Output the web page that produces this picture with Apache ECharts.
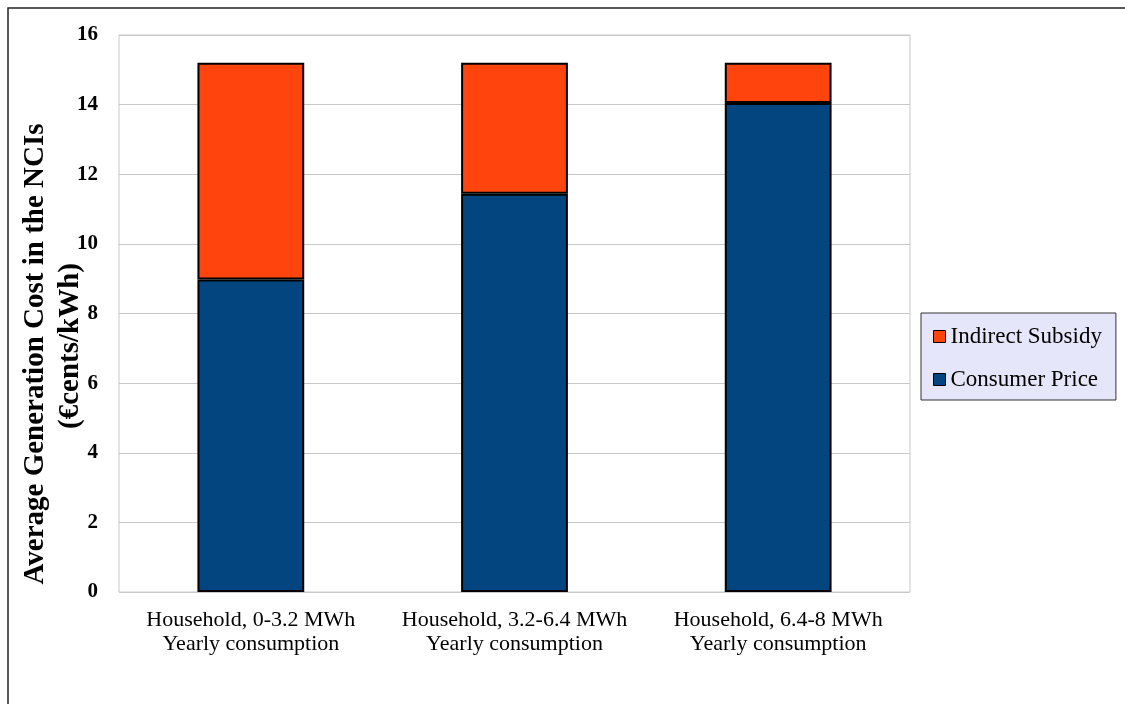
<!DOCTYPE html>
<html>
<head>
<meta charset="utf-8">
<script src="https://cdn.jsdelivr.net/npm/echarts@6/dist/echarts.min.js"></script>
<style>
html,body{margin:0;padding:0;background:#fff;}
#chart{width:1125px;height:704px;}
</style>
</head>
<body>
<div id="chart"></div>
<script>
// Household consumption bands
const categories = [
  'Household, 0-3.2 MWh\nYearly consumption',
  'Household, 3.2-6.4 MWh\nYearly consumption',
  'Household, 6.4-8 MWh\nYearly consumption'
];
// Average generation cost components (€cents/kWh)
const consumerPrice = [8.98, 11.44, 14.05];
const indirectSubsidy = [6.22, 3.76, 1.15];
const yTicks = [0, 2, 4, 6, 8, 10, 12, 14, 16];
const yTitle = ['Average Generation Cost in the NCIs', '(€cents/kWh)'];

const serif = '"Liberation Serif", "DejaVu Serif", serif';
const chart = echarts.init(document.getElementById('chart'));

chart.setOption({
  animation: false,
  backgroundColor: '#ffffff',
  graphic: [
    {
      type: 'rect',
      shape: { x: 8, y: 8, width: 1130, height: 710 },
      style: { fill: 'none', stroke: '#222', lineWidth: 1.5 },
      silent: true
    },
    {
      type: 'text',
      x: 36, y: 354,
      rotation: Math.PI / 2,
      style: {
        text: yTitle[0],
        fontFamily: serif, fontSize: 29, fontWeight: 'bold', fill: '#000',
        align: 'center', verticalAlign: 'middle'
      },
      silent: true
    },
    {
      type: 'text',
      x: 71, y: 346,
      rotation: Math.PI / 2,
      style: {
        text: yTitle[1],
        fontFamily: serif, fontSize: 29, fontWeight: 'bold', fill: '#000',
        align: 'center', verticalAlign: 'middle'
      },
      silent: true
    }
  ],
  grid: {
    left: 119, right: 215, top: 35, bottom: 112,
    outerBoundsMode: 'none',
    show: true, borderColor: '#c8c8c8', borderWidth: 1
  },
  legend: {
    orient: 'vertical',
    left: 921, top: 313,
    padding: [12, 14, 9, 12],
    itemGap: 20,
    itemWidth: 12, itemHeight: 12,
    backgroundColor: '#e6e6fa',
    borderColor: '#333',
    borderWidth: 1,
    icon: 'rect',
    textStyle: { fontFamily: serif, fontSize: 23, color: '#000' },
    data: [
      { name: 'Indirect Subsidy', itemStyle: { borderColor: '#000', borderWidth: 1 } },
      { name: 'Consumer Price', itemStyle: { borderColor: '#000', borderWidth: 1 } }
    ]
  },
  xAxis: {
    type: 'category',
    data: categories,
    axisLine: { show: false },
    axisTick: { show: false },
    axisLabel: {
      fontFamily: serif, fontSize: 22, color: '#000',
      margin: 16, lineHeight: 24, interval: 0
    }
  },
  yAxis: {
    type: 'value',
    min: 0, max: 16, interval: 2,
    axisLine: { show: false },
    axisTick: { show: false },
    splitLine: { lineStyle: { color: '#c8c8c8', width: 1 } },
    axisLabel: {
      fontFamily: serif, fontSize: 21, fontWeight: 'bold', color: '#000', margin: 21,
      formatter: v => (yTicks.includes(v) ? String(v) : '')
    }
  },
  series: [
    {
      name: 'Consumer Price',
      type: 'bar',
      stack: 'cost',
      barWidth: '40.5%',
      data: consumerPrice,
      itemStyle: { color: '#03467f', borderColor: '#000', borderWidth: 2 }
    },
    {
      name: 'Indirect Subsidy',
      type: 'bar',
      stack: 'cost',
      barWidth: '40.5%',
      data: indirectSubsidy,
      itemStyle: { color: '#ff440e', borderColor: '#000', borderWidth: 2 }
    }
  ]
});
</script>
</body>
</html>
